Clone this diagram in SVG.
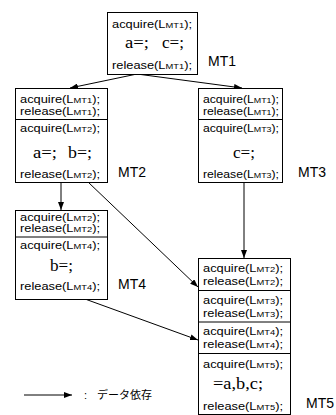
<svg xmlns="http://www.w3.org/2000/svg" width="336" height="415" viewBox="0 0 336 415">
<style>
.box{fill:#fff;stroke:#000;stroke-width:1}
.div{stroke:#000;stroke-width:1}
.t{font-family:"Liberation Sans",Arial,sans-serif;font-size:11px;fill:#000}
.sc{font-size:8px}
.s{font-family:"Liberation Serif","Times New Roman",serif;font-size:16px;fill:#000}
.lbl{font-family:"Liberation Sans",Arial,sans-serif;font-size:14px;fill:#000}
.c{stroke:#000;stroke-width:1;fill:none;marker-end:url(#ah)}
.j{font-family:"Liberation Sans","Noto Sans CJK JP",sans-serif;font-size:11px;fill:#000}
</style>
<defs>
<marker id="ah" viewBox="0 0 8 6" refX="8" refY="3" markerWidth="8" markerHeight="6" orient="auto" markerUnits="userSpaceOnUse">
<path d="M0,0 L8,3 L0,6 z" fill="#000"/>
</marker>
</defs>
<g id="connectors">
<line class="c" x1="137" y1="74" x2="70" y2="88"/>
<line class="c" x1="137" y1="74" x2="242" y2="88"/>
<line class="c" x1="61" y1="182" x2="61" y2="210"/>
<line class="c" x1="244" y1="182" x2="244" y2="258"/>
<line class="c" x1="88" y1="182" x2="198" y2="287"/>
<line class="c" x1="85" y1="299" x2="198" y2="340"/>
</g>
<g id="MT1">
<rect class="box" x="107.5" y="12.5" width="90" height="62"/>
<text class="t" x="112" y="28" textLength="80" lengthAdjust="spacingAndGlyphs">acquire(L<tspan class="sc">MT1</tspan>);</text>
<text class="s" x="125" y="48" textLength="24" lengthAdjust="spacingAndGlyphs">a=;</text>
<text class="s" x="162" y="48" textLength="22" lengthAdjust="spacingAndGlyphs">c=;</text>
<text class="t" x="112" y="69" textLength="80" lengthAdjust="spacingAndGlyphs">release(L<tspan class="sc">MT1</tspan>);</text>
<text class="lbl" x="208" y="66">MT1</text>
</g>
<g id="MT2">
<rect class="box" x="15.5" y="88.5" width="92" height="94"/>
<line class="div" x1="15.5" y1="119.5" x2="107.5" y2="119.5"/>
<text class="t" x="20" y="103" textLength="80" lengthAdjust="spacingAndGlyphs">acquire(L<tspan class="sc">MT1</tspan>);</text>
<text class="t" x="20" y="115" textLength="80" lengthAdjust="spacingAndGlyphs">release(L<tspan class="sc">MT1</tspan>);</text>
<text class="t" x="20" y="132" textLength="80" lengthAdjust="spacingAndGlyphs">acquire(L<tspan class="sc">MT2</tspan>);</text>
<text class="s" x="33" y="158" textLength="24" lengthAdjust="spacingAndGlyphs">a=;</text>
<text class="s" x="68" y="158" textLength="24" lengthAdjust="spacingAndGlyphs">b=;</text>
<text class="t" x="20" y="178" textLength="80" lengthAdjust="spacingAndGlyphs">release(L<tspan class="sc">MT2</tspan>);</text>
<text class="lbl" x="118" y="177">MT2</text>
</g>
<g id="MT3">
<rect class="box" x="198.5" y="88.5" width="84" height="94"/>
<line class="div" x1="198.5" y1="119.5" x2="282.5" y2="119.5"/>
<text class="t" x="203" y="103" textLength="76" lengthAdjust="spacingAndGlyphs">acquire(L<tspan class="sc">MT1</tspan>);</text>
<text class="t" x="203" y="115" textLength="76" lengthAdjust="spacingAndGlyphs">release(L<tspan class="sc">MT1</tspan>);</text>
<text class="t" x="203" y="132" textLength="76" lengthAdjust="spacingAndGlyphs">acquire(L<tspan class="sc">MT3</tspan>);</text>
<text class="s" x="233" y="158" textLength="22" lengthAdjust="spacingAndGlyphs">c=;</text>
<text class="t" x="203" y="178" textLength="76" lengthAdjust="spacingAndGlyphs">release(L<tspan class="sc">MT3</tspan>);</text>
<text class="lbl" x="298" y="177">MT3</text>
</g>
<g id="MT4">
<rect class="box" x="15.5" y="210.5" width="92" height="89"/>
<line class="div" x1="15.5" y1="237" x2="107.5" y2="237"/>
<text class="t" x="20" y="221" textLength="80" lengthAdjust="spacingAndGlyphs">acquire(L<tspan class="sc">MT2</tspan>);</text>
<text class="t" x="20" y="232" textLength="80" lengthAdjust="spacingAndGlyphs">release(L<tspan class="sc">MT2</tspan>);</text>
<text class="t" x="20" y="249" textLength="80" lengthAdjust="spacingAndGlyphs">acquire(L<tspan class="sc">MT4</tspan>);</text>
<text class="s" x="50" y="271" textLength="23" lengthAdjust="spacingAndGlyphs">b=;</text>
<text class="t" x="20" y="290" textLength="80" lengthAdjust="spacingAndGlyphs">release(L<tspan class="sc">MT4</tspan>);</text>
<text class="lbl" x="118" y="289">MT4</text>
</g>
<g id="MT5">
<rect class="box" x="198.5" y="258.5" width="92" height="156"/>
<line class="div" x1="198.5" y1="290.5" x2="290.5" y2="290.5"/>
<line class="div" x1="198.5" y1="322" x2="290.5" y2="322"/>
<line class="div" x1="198.5" y1="353.5" x2="290.5" y2="353.5"/>
<text class="t" x="203" y="272" textLength="80" lengthAdjust="spacingAndGlyphs">acquire(L<tspan class="sc">MT2</tspan>);</text>
<text class="t" x="203" y="285" textLength="80" lengthAdjust="spacingAndGlyphs">release(L<tspan class="sc">MT2</tspan>);</text>
<text class="t" x="203" y="304" textLength="80" lengthAdjust="spacingAndGlyphs">acquire(L<tspan class="sc">MT3</tspan>);</text>
<text class="t" x="203" y="317" textLength="80" lengthAdjust="spacingAndGlyphs">release(L<tspan class="sc">MT3</tspan>);</text>
<text class="t" x="203" y="335" textLength="80" lengthAdjust="spacingAndGlyphs">acquire(L<tspan class="sc">MT4</tspan>);</text>
<text class="t" x="203" y="348" textLength="80" lengthAdjust="spacingAndGlyphs">release(L<tspan class="sc">MT4</tspan>);</text>
<text class="t" x="203" y="368" textLength="80" lengthAdjust="spacingAndGlyphs">acquire(L<tspan class="sc">MT5</tspan>);</text>
<text class="s" x="213" y="389" textLength="50" lengthAdjust="spacingAndGlyphs">=a,b,c;</text>
<text class="t" x="203" y="410" textLength="80" lengthAdjust="spacingAndGlyphs">release(L<tspan class="sc">MT5</tspan>);</text>
<text class="lbl" x="306" y="408">MT5</text>
</g>
<g id="legend">
<line class="c" x1="24" y1="395" x2="72" y2="395"/>
<text class="j" x="84" y="399">:</text>
<text class="j" x="97" y="399">データ依存</text>
</g>
</svg>
